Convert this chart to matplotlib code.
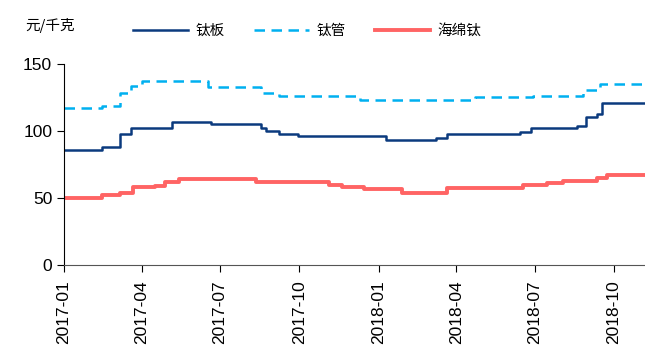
import pandas as pd
import matplotlib.pyplot as plt
import matplotlib.dates as mdates

plt.rcParams['font.family'] = ['Liberation Sans', 'Noto Sans CJK SC']

# price change dates and levels (元/千克)
plate_dates = ['2017-01-01', '2017-02-14', '2017-03-07', '2017-03-20', '2017-05-06',
               '2017-06-20', '2017-08-17', '2017-08-23', '2017-09-07', '2017-09-29',
               '2018-01-10', '2018-03-09', '2018-03-21', '2018-06-14', '2018-06-27',
               '2018-08-19', '2018-08-29', '2018-09-11', '2018-09-17', '2018-11-06']
plate = [86, 88, 98, 102, 107, 105, 102, 100, 98, 96,
         93.5, 95, 98, 99, 102.5, 103.7, 110.5, 112.5, 121, 121]

tube_dates = ['2017-01-01', '2017-02-14', '2017-03-07', '2017-03-20', '2017-04-01',
              '2017-06-17', '2017-08-18', '2017-09-08', '2017-12-10', '2018-04-23',
              '2018-06-29', '2018-08-26', '2018-09-15', '2018-11-06']
tube = [117, 118.5, 128, 133.5, 137, 132.5, 128, 126, 123, 125.5, 126, 130.5, 135, 135]

sponge_dates = ['2017-01-01', '2017-02-14', '2017-03-07', '2017-03-22', '2017-04-17',
                '2017-04-28', '2017-05-14', '2017-08-12', '2017-11-04', '2017-11-20',
                '2017-12-15', '2018-01-28', '2018-03-21', '2018-06-17', '2018-07-15',
                '2018-08-03', '2018-09-11', '2018-09-23', '2018-11-06']
sponge = [50, 52.5, 54, 58, 59, 62, 64.5, 62, 60, 58, 56.5, 54, 57.5, 59.5, 61, 63, 65, 67, 67]

labels = ('钛板', '钛管', '海绵钛')
colors = ('#0b3a7e', '#00b0f0', '#ff6464')

fig = plt.figure(figsize=(6.45, 3.47), dpi=100)
ax = fig.add_axes([0.0992, 0.2363, 0.9008, 0.5793])

l1, = ax.step(pd.to_datetime(plate_dates), plate, where='post', color=colors[0], lw=1.8)
l2, = ax.step(pd.to_datetime(tube_dates), tube, where='post', color=colors[1], lw=1.8,
              dashes=(4.2, 2.6))
l3, = ax.step(pd.to_datetime(sponge_dates), sponge, where='post', color=colors[2], lw=2.8)

ax.set_ylim(0, 150)
ax.set_yticks([0, 50, 100, 150])
ax.set_xlim(pd.Timestamp('2017-01-01'), pd.Timestamp('2018-11-06'))
ax.xaxis.set_major_locator(mdates.MonthLocator(bymonth=[1, 4, 7, 10]))
ax.xaxis.set_major_formatter(mdates.DateFormatter('%Y-%m'))
plt.setp(ax.get_xticklabels(), rotation=90)

ax.spines['top'].set_visible(False)
ax.spines['right'].set_visible(False)
ax.spines['left'].set_color('black')
ax.spines['bottom'].set_color('#555555')
ax.tick_params(axis='both', which='both', direction='out', length=5, labelsize=12.5)
ax.tick_params(axis='x', pad=6)

fig.text(0.039, 0.926, '元/千克', fontsize=10.5, family=['Noto Sans CJK SC'], va='center')
fig.legend((l1, l2, l3), labels, loc='center', bbox_to_anchor=(0.476, 0.91), ncol=3,
           frameon=False, handlelength=3.8, handletextpad=0.5, columnspacing=2.0,
           prop={'family': 'Noto Sans CJK SC', 'size': 10.5})

plt.savefig('out.png', dpi=100)
